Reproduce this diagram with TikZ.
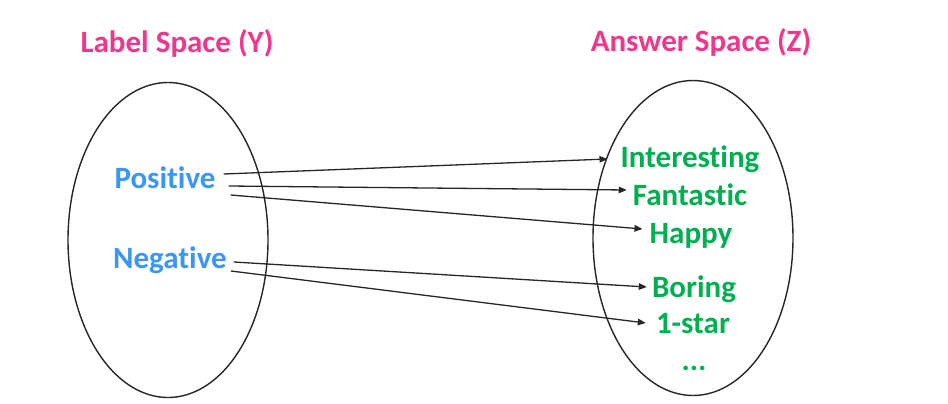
\documentclass[tikz,border=0pt]{standalone}
\usepackage{fontspec}
\setmainfont[Ligatures=NoCommon]{Carlito}
\usetikzlibrary{arrows.meta,shapes.geometric}
\definecolor{tpink}{RGB}{240,55,140}
\definecolor{tblue}{RGB}{60,150,245}
\definecolor{tgreen}{RGB}{0,176,80}
\tikzset{
  lbl/.style={font=\fontsize{31}{37}\selectfont\bfseries, inner sep=0pt, anchor=base},
  title/.style={lbl, text=tpink},
  cls/.style={lbl, text=tblue},
  ans/.style={lbl, text=tgreen},
  setshape/.style={draw=black!85, line width=1.4pt, ellipse, inner sep=0pt},
  map/.style={draw=black!85, line width=1.3pt, -{Triangle[length=8pt,width=6.5pt]}}
}
\begin{document}
\begin{tikzpicture}[x=1pt,y=-1pt]
\useasboundingbox (0,0) rectangle (948,404);
\node[setshape, minimum width=200pt, minimum height=315pt] (lset) at (168,240) {};
\node[setshape, minimum width=200pt, minimum height=315pt] (aset) at (693,238) {};
\node[title] (ltitle) at (177,53) {Label Space (Y)};
\node[title] (atitle) at (701,52) {Answer Space (Z)};
\node[cls] (pos) at (165,188) {Positive};
\node[cls] (neg) at (170,268) {Negative};
\node[ans] (a1) at (690,167) {Interesting};
\node[ans] (a2) at (690,205) {Fantastic};
\node[ans] (a3) at (691,243) {Happy};
\node[ans] (a4) at (694,297) {Boring};
\node[ans] (a5) at (693,333) {1-star};
\node[ans] (a6) at (694,370) {...};
\draw[map] ([shift={(8,-14)}]pos.base east) -- ([shift={(-13,-8)}]a1.base west);
\draw[map] ([shift={(13,-2)}]pos.base east) -- ([shift={(-6,-15)}]a2.base west);
\draw[map] ([shift={(15,7)}]pos.base east) -- ([shift={(-7,-14)}]a3.base west);
\draw[map] ([shift={(7,-6)}]neg.base east) -- ([shift={(-5,-10)}]a4.base west);
\draw[map] ([shift={(4,3)}]neg.base east) -- ([shift={(-10,-10)}]a5.base west);
\end{tikzpicture}
\end{document}
